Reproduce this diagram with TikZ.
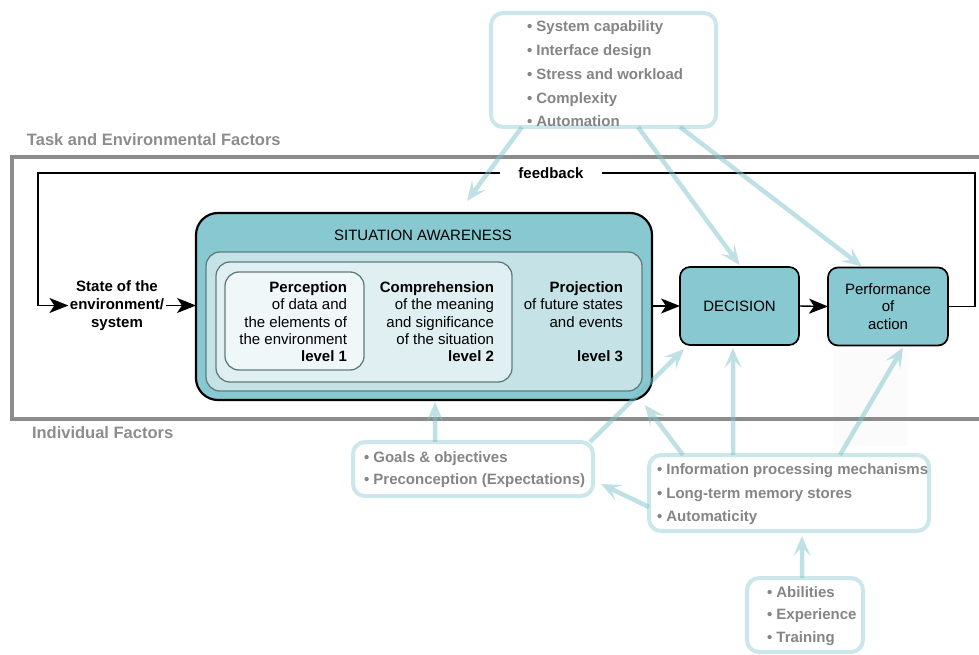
\documentclass[tikz,border=0pt]{standalone}
\usepackage{fontspec}
\setmainfont{Liberation Sans}
\usetikzlibrary{arrows.meta}

\definecolor{safill}{HTML}{88C8D0}
\definecolor{lvthree}{HTML}{C5E3E7}
\definecolor{lvtwo}{HTML}{E0EFF2}
\definecolor{lvone}{HTML}{EFF7F9}
\definecolor{lvline}{HTML}{627C7E}
\definecolor{factline}{HTML}{CBE7EB}
\definecolor{factarrow}{HTML}{80C4CC}
\definecolor{facttext}{HTML}{858585}
\definecolor{framegray}{HTML}{8C8C8C}

\begin{document}
\begin{tikzpicture}[x=1pt,y=-1pt,
  every node/.style={inner sep=0pt, outer sep=0pt},
  blackarrow/.style={line width=1.4pt, -{Stealth[length=19pt,width=15pt,inset=5pt]}},
  flowline/.style={line width=1.4pt},
  factarr/.style={draw=factarrow, line width=4.5pt, -{Stealth[length=20pt,width=17pt,inset=9pt]}},
  factbox/.style={draw=factline, line width=4pt, rounded corners=12pt, fill=white},
  facttxt/.style={anchor=north west, align=left, text=facttext, font=\bfseries},
  lvbox/.style={draw=lvline, line width=1.3pt, rounded corners=14pt},
  procbox/.style={draw=black, line width=1.7pt, fill=safill, rounded corners=10pt},
  bodytxt/.style={anchor=north east, align=right, font=\fontsize{15}{17.1}\selectfont},
  sidetitle/.style={anchor=west, text=framegray, font=\fontsize{16.5}{19}\selectfont\bfseries}
]
\useasboundingbox (0,0) rectangle (979,655);

% faint backdrop behind the action input
\fill[black!1.5] (833,350) rectangle (907,446);

% frame separating task factors from individual factors
\draw[framegray, line width=4.5pt] (979,157) -- (12,157) -- (12,419) -- (979,419);
\node[sidetitle] (tasktitle) at (27,140) {Task and Environmental Factors};
\node[sidetitle] (indtitle) at (32,433) {Individual Factors};

% situation awareness block
\node[draw=black, line width=2.2pt, fill=safill, rounded corners=22pt,
      minimum width=456pt, minimum height=187pt] (sa) at (424,306.5) {};
\node[lvbox, fill=lvthree, minimum width=436pt, minimum height=139pt] (lv3) at (424,321.5) {};
\node[lvbox, fill=lvtwo, minimum width=296pt, minimum height=120pt] (lv2) at (364,322) {};
\node[lvbox, fill=lvone, minimum width=139pt, minimum height=98pt] (lv1) at (294.5,321) {};
\node[font=\fontsize{15}{17}\selectfont] (satitle) at (423,235) {SITUATION AWARENESS};

\node[bodytxt] (perc) at (347,282)
  {\textbf{Perception}\\of data and\\the elements of\\the environment\\\textbf{level 1}};
\node[bodytxt] (comp) at (494,282)
  {\textbf{Comprehension}\\of the meaning\\and significance\\of the situation\\\textbf{level 2}};
\node[bodytxt] (proj) at (623,282)
  {\textbf{Projection}\\of future states\\and events\\[17.1pt]\textbf{level 3}};

% decision and action
\node[procbox, minimum width=119pt, minimum height=78pt,
      font=\fontsize{15}{17}\selectfont] (decision) at (739.5,306) {DECISION};
\node[procbox, minimum width=120pt, minimum height=78pt, align=center,
      font=\fontsize{15}{17.5}\selectfont] (perf) at (888,306.5) {Performance\\of\\action};

% state of the environment
\node[align=center, inner xsep=1.5pt, font=\fontsize{15}{18}\selectfont\bfseries] (state) at (117,305.5)
  {State of the\\environment/\\system};

% main flow
\draw[blackarrow] (state.east) -- (state.east -| sa.west);
\draw[blackarrow] (sa.east |- decision.west) -- (decision.west);
\draw[blackarrow] (decision.east) -- (perf.west);

% feedback loop
\coordinate (fbR) at (975,173);
\coordinate (fbL) at (38,173);
\node[fill=white, inner xsep=18pt, inner ysep=3pt, font=\fontsize{15}{17}\selectfont\bfseries] (fb) at (551,173) {feedback};
\draw[flowline] (perf.east) -| (fbR) -- (fb.east);
\draw[blackarrow] (fb.west) -- (fbL) |- (state.west);

% factor boxes
\node[factbox, minimum width=225pt, minimum height=114pt] (task) at (603.5,70) {};
\node[facttxt, font=\fontsize{15}{23.9}\selectfont\bfseries] (tasklist) at (527,20.5)
  {• System capability\\• Interface design\\• Stress and workload\\• Complexity\\• Automation};

\node[factbox, minimum width=240pt, minimum height=54pt] (goals) at (473,469) {};
\node[facttxt, font=\fontsize{15}{22}\selectfont\bfseries] (goalslist) at (364,451.5)
  {• Goals \& objectives\\• Preconception (Expectations)};

\node[factbox, minimum width=280pt, minimum height=76pt] (info) at (789,493) {};
\node[facttxt, font=\fontsize{15}{23.5}\selectfont\bfseries] (infolist) at (657,464)
  {• Information processing mechanisms\\• Long-term memory stores\\• Automaticity};

\node[factbox, minimum width=116pt, minimum height=74pt] (abil) at (805,615) {};
\node[facttxt, font=\fontsize{15}{22.5}\selectfont\bfseries] (abillist) at (767,586.5)
  {• Abilities\\• Experience\\• Training};

% influences of the factors
\begin{scope}[transparency group, opacity=0.5]
  \draw[factarr] ([xshift=-81.5pt]task.south) -- ([xshift=43pt,yshift=12pt]sa.north);
  \draw[factarr] ([xshift=34.5pt]task.south) -- ([yshift=2pt]decision.north);
  \draw[factarr] ([xshift=76.5pt]task.south) -- ([xshift=-26pt,yshift=1pt]perf.north);
  \draw[factarr] ([xshift=-38pt]goals.north) -- ([xshift=11pt,yshift=-2pt]sa.south);
  \draw[factarr] ([xshift=117pt]goals.north) -- ([xshift=4pt,yshift=-4pt]decision.south west);
  \draw[factarr] ([xshift=-106pt]info.north) -- ([xshift=-7pt,yshift=-5pt]sa.south east);
  \draw[factarr] ([xshift=-56pt]info.north) -- ([xshift=-6.5pt,yshift=-3pt]decision.south);
  \draw[factarr] ([xshift=51pt]info.north) -- ([xshift=15pt,yshift=-2pt]perf.south);
  \draw[factarr] ([yshift=-14pt]info.west) -- ([xshift=8pt,yshift=-15pt]goals.east);
  \draw[factarr] ([xshift=-3pt]abil.north) -- ([xshift=13pt,yshift=-5pt]info.south);
\end{scope}
\end{tikzpicture}
\end{document}
